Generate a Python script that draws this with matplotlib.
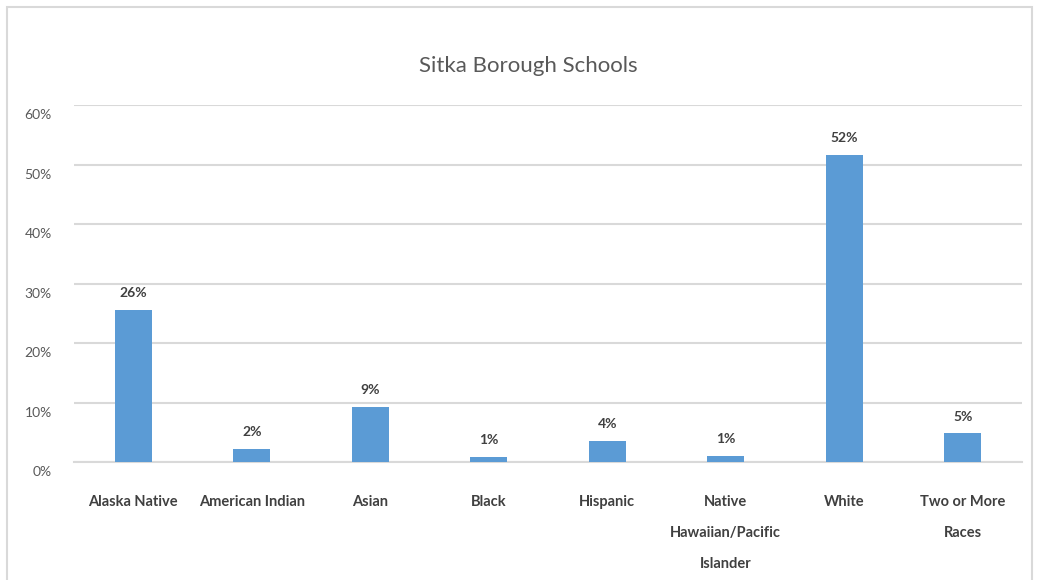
import matplotlib
matplotlib.use('Agg')
import matplotlib.pyplot as plt
from matplotlib.patches import Rectangle
from matplotlib.transforms import ScaledTranslation

# data
categories = ['Alaska Native', 'American Indian', 'Asian', 'Black', 'Hispanic',
              'Native\nHawaiian/Pacific\nIslander', 'White', 'Two or More\nRaces']
shares = [0.256, 0.022, 0.093, 0.009, 0.036, 0.010, 0.516, 0.048]
yticks = [0, 0.1, 0.2, 0.3, 0.4, 0.5, 0.6]

plt.rcParams['font.family'] = ['Lato', 'DejaVu Sans']
text_grey = '#595959'
label_grey = '#404040'
grid_grey = '#d9d9d9'
bar_blue = '#5b9bd5'

fig = plt.figure(figsize=(10.4, 5.8), dpi=100)
fig.patch.set_facecolor('white')

# outer chart border (runs off the bottom of the image)
fig.patches.append(Rectangle((7 / 1040, -0.05), 1025 / 1040, 1 - 7 / 580 + 0.05,
                             transform=fig.transFigure, fill=False,
                             edgecolor=grid_grey, linewidth=1.5))

ax = fig.add_axes([74 / 1040, 1 - 462 / 580, 948 / 1040, 357 / 580])
x = range(len(categories))
bars = ax.bar(x, shares, width=0.31, color=bar_blue, zorder=3)

ax.set_xlim(-0.5, len(categories) - 0.5)
ax.set_ylim(0, 0.6)
ax.set_yticks(yticks)
ax.set_yticklabels(['{:.0f}%'.format(v * 100) for v in yticks], color=text_grey, fontsize=10)
ax.yaxis.grid(True, color=grid_grey, linewidth=1.5, zorder=0)
ax.tick_params(axis='y', length=0, pad=16)
for lab in ax.get_yticklabels():
    lab.set_transform(lab.get_transform() + ScaledTranslation(0, -6.5 / 72, fig.dpi_scale_trans))

ax.set_xticks(list(x))
ax.set_xticklabels(categories, color=label_grey, fontsize=10.5, fontweight='bold', linespacing=2.55)
ax.tick_params(axis='x', length=0, pad=24)

for s in ['top', 'right', 'left']:
    ax.spines[s].set_visible(False)
ax.spines['bottom'].set_color(grid_grey)
ax.spines['bottom'].set_linewidth(1.5)

for b, v in zip(bars, shares):
    ax.annotate('{:.0f}%'.format(v * 100), (b.get_x() + b.get_width() / 2, v),
                xytext=(0, 12), textcoords='offset points', ha='center', va='center',
                fontsize=10, fontweight='bold', color=label_grey)

fig.text(528 / 1040, 1 - 66 / 580, 'Sitka Borough Schools', ha='center', va='center',
         fontsize=16, color=text_grey)

fig.savefig('out.png', dpi=100)
